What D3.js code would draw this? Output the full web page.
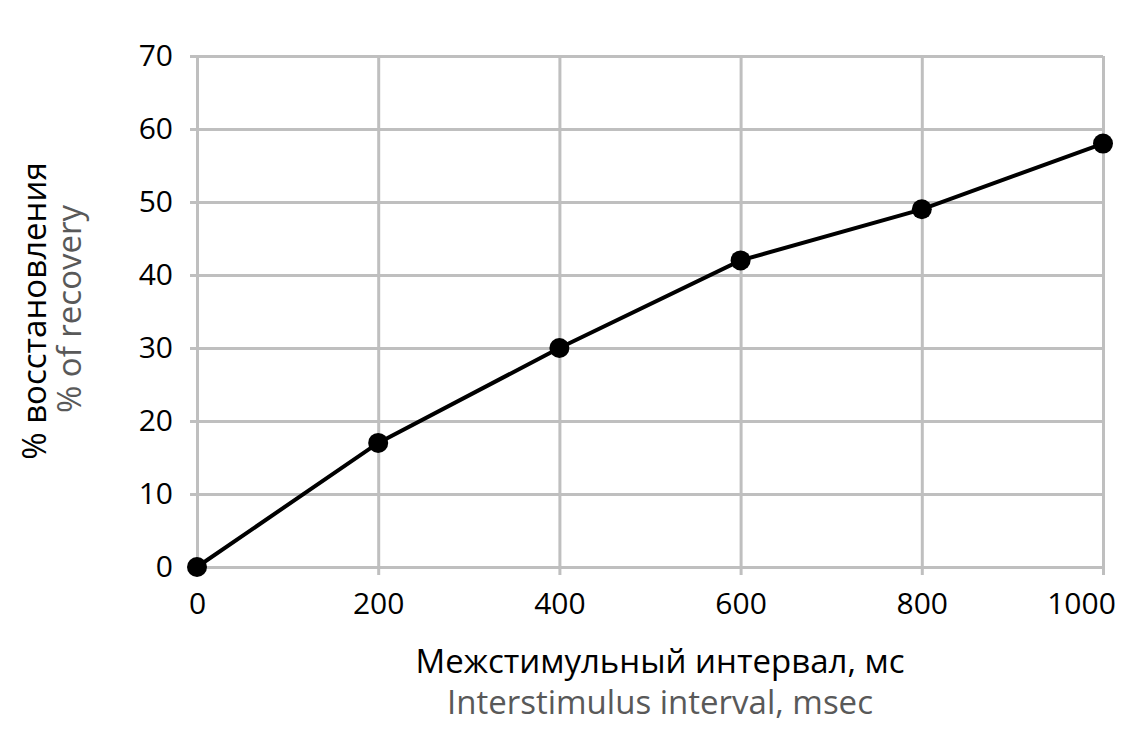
<!DOCTYPE html>
<html><head><meta charset="utf-8">
<script src="https://cdn.jsdelivr.net/npm/d3@7"></script>
<style>body{margin:0;background:#fff}svg{display:block}</style>
</head><body>
<svg id="c" width="1136" height="739"></svg>
<script>
const intervals = [0, 200, 400, 600, 800, 1000];
const recovery = [0, 17, 30, 42, 49, 58];
const xTicks = [0, 200, 400, 600, 800, 1000];
const yTicks = [0, 10, 20, 30, 40, 50, 60, 70];
const yTitleRu = "% восстановления";
const yTitleEn = "% of recovery";
const xTitleRu = "Межстимульный интервал, мс";
const xTitleEn = "Interstimulus interval, msec";

const svg = d3.select("#c");
const font = "'Open Sans', 'Noto Sans', sans-serif";
const x = d3.scaleLinear().domain([0, 1000]).range([197, 1103]);
const y = d3.scaleLinear().domain([0, 70]).range([567, 56]);

const grid = "#bfbfbf";
// horizontal gridlines
const yAxis = d3.axisLeft(y).tickValues(yTicks).tickSize(-(1103 - 190)).tickPadding(17).tickFormat(d3.format("d"));
const gy = svg.append("g").attr("transform", "translate(190,0)").call(yAxis);
gy.select(".domain").remove();
gy.selectAll(".tick line").attr("stroke", grid).attr("stroke-width", 3);
gy.selectAll(".tick text").attr("font-family", font).attr("font-size", 30).attr("fill", "#000")
  .attr("x", -17);

// vertical gridlines
const xAxis = d3.axisBottom(x).tickValues(xTicks).tickSize(-(575 - 56)).tickPadding(18).tickFormat(d3.format("d"));
const gx = svg.append("g").attr("transform", "translate(0,575)").call(xAxis);
gx.select(".domain").remove();
gx.selectAll(".tick line").attr("stroke", grid).attr("stroke-width", 3);
gx.selectAll(".tick text").attr("font-family", font).attr("font-size", 30).attr("fill", "#000")
  .attr("y", 18)
  .attr("dx", d => d === 1000 ? -22 : 0);

const data = intervals.map((d, i) => ({ x: d, y: recovery[i] }));
svg.append("path").datum(data)
  .attr("fill", "none").attr("stroke", "#000").attr("stroke-width", 4)
  .attr("d", d3.line().x(d => x(d.x)).y(d => y(d.y)));
svg.selectAll("circle.pt").data(data).join("circle")
  .attr("class", "pt").attr("cx", d => x(d.x)).attr("cy", d => y(d.y)).attr("r", 10).attr("fill", "#000");

// titles
svg.append("text").attr("x", 660).attr("y", 673).attr("text-anchor", "middle")
  .attr("font-family", font).attr("font-size", 33).attr("fill", "#000").text(xTitleRu);
svg.append("text").attr("x", 660).attr("y", 714).attr("text-anchor", "middle")
  .attr("font-family", font).attr("font-size", 33).attr("fill", "#595959").text(xTitleEn);
svg.append("text").attr("transform", "translate(46,311) rotate(-90)").attr("text-anchor", "middle")
  .attr("font-family", font).attr("font-size", 33).attr("fill", "#000").text(yTitleRu);
svg.append("text").attr("transform", "translate(81,309) rotate(-90)").attr("text-anchor", "middle")
  .attr("font-family", font).attr("font-size", 33).attr("fill", "#595959").text(yTitleEn);
</script>
</body></html>
